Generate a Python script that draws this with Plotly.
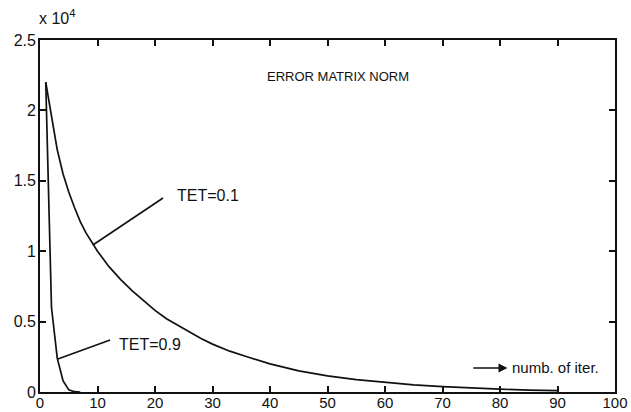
import plotly.graph_objects as go

# ---- data (values in units of 1e4) ----
iter_01 = [1, 2, 3, 4, 5, 6, 7, 8, 9, 10, 12, 14, 16, 18, 20, 22, 25, 28, 30, 33, 36,
           40, 45, 50, 55, 60, 65, 70, 75, 80, 85, 90]
norm_01 = [2.2, 1.95, 1.72, 1.55, 1.42, 1.31, 1.21, 1.13, 1.06, 1.0, 0.89, 0.80, 0.72,
           0.65, 0.58, 0.52, 0.45, 0.38, 0.34, 0.29, 0.25, 0.20, 0.15, 0.115, 0.088,
           0.067, 0.050, 0.038, 0.028, 0.020, 0.014, 0.010]
iter_09 = [1, 2, 3, 4, 5, 6, 7]
norm_09 = [2.2, 0.6, 0.24, 0.08, 0.015, 0.002, 0.0]

x_ticks = [0, 10, 20, 30, 40, 50, 60, 70, 80, 90, 100]
y_tick_vals = [0, 0.5, 1, 1.5, 2, 2.5]
y_tick_text = ["0", "0.5", "1", "1.5", "2", "2.5"]
SCALE = 1e4

FONT = "Liberation Sans, Arial, sans-serif"
INK = "#111111"

fig = go.Figure()
fig.add_trace(go.Scatter(x=iter_01, y=[v * SCALE for v in norm_01], mode="lines",
                         line=dict(color=INK, width=1.7), showlegend=False))
fig.add_trace(go.Scatter(x=iter_09, y=[v * SCALE for v in norm_09], mode="lines",
                         line=dict(color=INK, width=1.7), showlegend=False))

# leader lines
fig.add_shape(type="line", x0=21.4, y0=13778, x1=9.2, y1=10440,
              line=dict(color=INK, width=1.6))
fig.add_shape(type="line", x0=12.2, y0=3693, x1=3.1, y1=2350,
              line=dict(color=INK, width=1.6))

anns = [
    dict(x=23.5, y=13990, text="TET=0.1", xanchor="left", yanchor="middle", size=16),
    dict(x=13.4, y=3340, text="TET=0.9", xanchor="left", yanchor="middle", size=16),
    dict(x=51.8, y=22443, text="ERROR MATRIX NORM", xanchor="center", yanchor="middle", size=13),
    dict(x=81.7, y=1705, text="numb. of iter.", xanchor="left", yanchor="middle", size=15),
]
for a in anns:
    fig.add_annotation(x=a["x"], y=a["y"], text=a["text"], showarrow=False,
                       xanchor=a["xanchor"], yanchor=a["yanchor"],
                       font=dict(family=FONT, size=a["size"], color=INK))

# arrow
fig.add_annotation(x=81.3, y=1705, ax=75.1, ay=1705, axref="x", ayref="y",
                   xref="x", yref="y", text="", showarrow=True,
                   arrowhead=2, arrowsize=1.2, arrowwidth=1.5, arrowcolor=INK)

# exponent label
fig.add_annotation(xref="paper", yref="paper", x=-0.005, y=1.03, xanchor="left",
                   yanchor="bottom", text="x 10<sup>4</sup>", showarrow=False,
                   font=dict(family=FONT, size=16, color=INK))

fig.update_layout(
    width=631, height=412,
    margin=dict(l=40, r=16, t=40, b=20, autoexpand=False),
    paper_bgcolor="white", plot_bgcolor="white",
    font=dict(family=FONT, size=16, color=INK),
)
fig.update_xaxes(range=[0, 100], tickvals=x_ticks, ticks="inside", ticklen=6,
                 tickcolor=INK, tickwidth=1.5, showline=True, linecolor=INK,
                 linewidth=1.7, mirror="ticks", showgrid=False, zeroline=False,
                 tickfont=dict(size=15), automargin=False, ticklabelstandoff=-4)
fig.update_yaxes(range=[0, 2.5 * SCALE], tickvals=[v * SCALE for v in y_tick_vals],
                 ticktext=y_tick_text, ticks="inside", ticklen=6, tickcolor=INK,
                 tickwidth=1.5, showline=True, linecolor=INK, linewidth=1.7,
                 mirror="ticks", showgrid=False, zeroline=False,
                 tickfont=dict(size=16), automargin=False, ticklabelstandoff=-1)

fig.write_html("out.html", config={"displayModeBar": False},
               post_script="document.body.style.margin='0px';"
                           "document.body.style.overflow='hidden';")
